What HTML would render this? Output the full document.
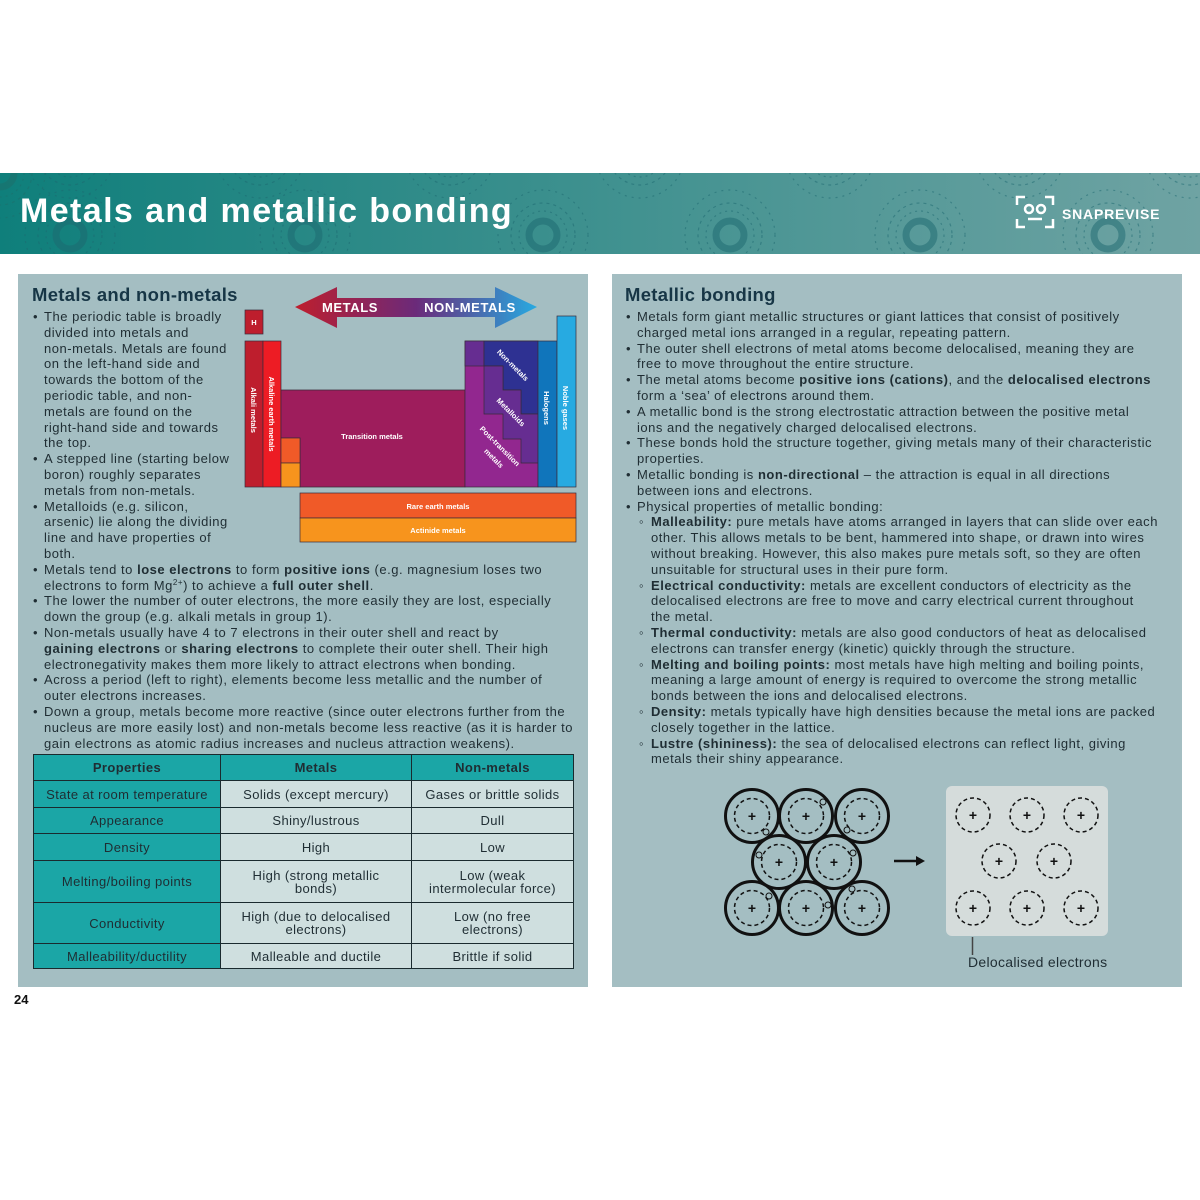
<!DOCTYPE html>
<html><head><meta charset="utf-8"><style>
*{margin:0;padding:0;box-sizing:border-box}
body{width:1200px;height:1200px;background:#fff;position:relative;overflow:hidden;font-family:"Liberation Sans",sans-serif;color:#1c2b33}
.hdr{position:absolute;left:0;top:173px;width:1200px;height:81px;background:linear-gradient(90deg,#0f7f7b 0%,#3a8f8d 45%,#6fa3a3 100%);overflow:hidden}
.title{position:absolute;left:20px;top:192px;font-size:34px;font-weight:bold;color:#fff;letter-spacing:1.4px}
.panel{position:absolute;top:274px;width:570px;height:713px;background:#a4bec2}
h2{position:absolute;font-size:18.5px;font-weight:bold;color:#173646;letter-spacing:0.3px}
.t{position:absolute;font-size:13px;line-height:15.8px;letter-spacing:0.52px;white-space:nowrap;color:#1f2d33}
.t p{position:relative;padding-left:12px}
.t p:before{content:"•";position:absolute;left:1px}
.t p.s{padding-left:26px}
.t p.s:before{content:"◦";left:14px}
sup{font-size:8px;line-height:0;vertical-align:5px}
table{position:absolute;left:33px;top:754px;width:541px;border-collapse:collapse;font-size:13px;letter-spacing:0.4px}
td{border:1.5px solid #1a2a2e;text-align:center;line-height:13px;color:#1f2d33}
td.k{background:#1ba6a6}
td.v{background:#cfdfdf}
</style></head><body>
<div class="hdr">
<svg width="1200" height="81" style="position:absolute;left:0;top:0">
<g fill="none" stroke="#1d6f6c" stroke-width="1.2" opacity="0.55">
<g id="r"><circle cx="0" cy="0" r="14" stroke-width="7"/><circle cx="0" cy="0" r="32" stroke-dasharray="3 4"/><circle cx="0" cy="0" r="45" stroke-dasharray="2 5"/><circle cx="0" cy="0" r="24" stroke-dasharray="2 4"/></g>
</g>
<g fill="none" stroke="#1d6870" stroke-width="1.2" opacity="0.5">
<use href="#r" x="70" y="62"/><use href="#r" x="305" y="62"/><use href="#r" x="543" y="62"/><use href="#r" x="730" y="62"/><use href="#r" x="920" y="62"/><use href="#r" x="1108" y="62"/>
<use href="#r" x="70" y="-20"/><use href="#r" x="260" y="-20"/><use href="#r" x="450" y="-20"/><use href="#r" x="640" y="-20"/><use href="#r" x="830" y="-20"/><use href="#r" x="1020" y="-20"/><use href="#r" x="1190" y="-20"/>
</g>
</svg>
<svg width="40" height="34" style="position:absolute;left:1015px;top:22px"><g fill="none" stroke="#fff" stroke-width="2.5"><path d="M2 10V2h8M30 2h8v8M2 24v8h8M30 32h8v-8"/><circle cx="14" cy="14" r="4"/><circle cx="26" cy="14" r="4"/><path d="M13 24h14"/></g></svg>
<div style="position:absolute;left:1062px;top:33px;color:#fff;font-weight:bold;font-size:14px;letter-spacing:0.8px">SNAPREVISE</div>
</div>
<div class="title">Metals and metallic bonding</div>

<div class="panel" style="left:18px"></div>
<div class="panel" style="left:612px"></div>
<h2 style="left:32px;top:284px">Metals and non-metals</h2>
<h2 style="left:625px;top:284px">Metallic bonding</h2>

<div class="t" style="left:32px;top:309px">
<p>The periodic table is broadly<br>divided into metals and<br>non-metals. Metals are found<br>on the left-hand side and<br>towards the bottom of the<br>periodic table, and non-<br>metals are found on the<br>right-hand side and towards<br>the top.</p>
<p>A stepped line (starting below<br>boron) roughly separates<br>metals from non-metals.</p>
<p>Metalloids (e.g. silicon,<br>arsenic) lie along the dividing<br>line and have properties of<br>both.</p>
<p>Metals tend to <b>lose electrons</b> to form <b>positive ions</b> (e.g. magnesium loses two<br>electrons to form Mg<sup>2+</sup>) to achieve a <b>full outer shell</b>.</p>
<p>The lower the number of outer electrons, the more easily they are lost, especially<br>down the group (e.g. alkali metals in group 1).</p>
<p>Non-metals usually have 4 to 7 electrons in their outer shell and react by<br><b>gaining electrons</b> or <b>sharing electrons</b> to complete their outer shell. Their high<br>electronegativity makes them more likely to attract electrons when bonding.</p>
<p>Across a period (left to right), elements become less metallic and the number of<br>outer electrons increases.</p>
<p>Down a group, metals become more reactive (since outer electrons further from the<br>nucleus are more easily lost) and non-metals become less reactive (as it is harder to<br>gain electrons as atomic radius increases and nucleus attraction weakens).</p>
</div>

<div class="t" style="left:625px;top:309px">
<p>Metals form giant metallic structures or giant lattices that consist of positively<br>charged metal ions arranged in a regular, repeating pattern.</p>
<p>The outer shell electrons of metal atoms become delocalised, meaning they are<br>free to move throughout the entire structure.</p>
<p>The metal atoms become <b>positive ions (cations)</b>, and the <b>delocalised electrons</b><br>form a ‘sea’ of electrons around them.</p>
<p>A metallic bond is the strong electrostatic attraction between the positive metal<br>ions and the negatively charged delocalised electrons.</p>
<p>These bonds hold the structure together, giving metals many of their characteristic<br>properties.</p>
<p>Metallic bonding is <b>non-directional</b> – the attraction is equal in all directions<br>between ions and electrons.</p>
<p>Physical properties of metallic bonding:</p>
<p class="s"><b>Malleability:</b> pure metals have atoms arranged in layers that can slide over each<br>other. This allows metals to be bent, hammered into shape, or drawn into wires<br>without breaking. However, this also makes pure metals soft, so they are often<br>unsuitable for structural uses in their pure form.</p>
<p class="s"><b>Electrical conductivity:</b> metals are excellent conductors of electricity as the<br>delocalised electrons are free to move and carry electrical current throughout<br>the metal.</p>
<p class="s"><b>Thermal conductivity:</b> metals are also good conductors of heat as delocalised<br>electrons can transfer energy (kinetic) quickly through the structure.</p>
<p class="s"><b>Melting and boiling points:</b> most metals have high melting and boiling points,<br>meaning a large amount of energy is required to overcome the strong metallic<br>bonds between the ions and delocalised electrons.</p>
<p class="s"><b>Density:</b> metals typically have high densities because the metal ions are packed<br>closely together in the lattice.</p>
<p class="s"><b>Lustre (shininess):</b> the sea of delocalised electrons can reflect light, giving<br>metals their shiny appearance.</p>
</div>

<svg width="1200" height="1200" style="position:absolute;left:0;top:0" font-family="Liberation Sans, sans-serif">
<defs><linearGradient id="ag" x1="0" x2="1"><stop offset="0" stop-color="#be1e2d"/><stop offset="0.5" stop-color="#6b2a7a"/><stop offset="1" stop-color="#27aae1"/></linearGradient></defs>
<path d="M295 307 L337 287 L337 298 L495 298 L495 287 L537 307 L495 328 L495 317 L337 317 L337 328 Z" fill="url(#ag)"/>
<text x="350" y="312" fill="#fff" font-size="13" font-weight="bold" text-anchor="middle" letter-spacing="0.6">METALS</text>
<text x="470" y="312" fill="#fff" font-size="13" font-weight="bold" text-anchor="middle" letter-spacing="0.6">NON-METALS</text>
<g stroke="#3a2a3a" stroke-width="0.7">
<rect x="245" y="310" width="18" height="24" fill="#be1e2d"/>
<rect x="245" y="341" width="18" height="146" fill="#be1e2d"/>
<rect x="263" y="341" width="18" height="146" fill="#ed1c24"/>
<path d="M281 390H465V487H300V438H281Z" fill="#9e1d5c"/>
<rect x="281" y="438" width="19" height="25" fill="#f05a28"/>
<rect x="281" y="463" width="19" height="24" fill="#f7941d"/>
<rect x="465" y="341" width="73" height="146" fill="#92278f"/>
<rect x="465" y="341" width="19" height="25" fill="#662d91"/>
<path d="M484 341H538V414H521V390H503V366H484Z" fill="#2e3192"/>
<path d="M484 366H503V390H521V414H538V463H521V439H503V414H484Z" fill="#662d91"/>
<rect x="538" y="341" width="19" height="146" fill="#1075bb"/>
<rect x="557" y="316" width="19" height="171" fill="#27aae1"/>
<rect x="300" y="493" width="276" height="25" fill="#f05a28"/>
<rect x="300" y="518" width="276" height="24" fill="#f7941d"/>
</g>
<g fill="#fff" font-size="7.5" font-weight="bold">
<text x="254" y="325" text-anchor="middle">H</text>
<text transform="translate(251,410) rotate(90)" text-anchor="middle">Alkali metals</text>
<text transform="translate(269,414) rotate(90)" text-anchor="middle">Alkaline earth metals</text>
<text x="372" y="439" text-anchor="middle">Transition metals</text>
<text transform="translate(511,367) rotate(45)" text-anchor="middle">Non-metals</text>
<text transform="translate(509,414) rotate(45)" text-anchor="middle">Metalloids</text>
<text transform="translate(498,448) rotate(45)" text-anchor="middle">Post-transition</text>
<text transform="translate(492,460) rotate(45)" text-anchor="middle">metals</text>
<text transform="translate(544,408) rotate(90)" text-anchor="middle">Halogens</text>
<text transform="translate(563,408) rotate(90)" text-anchor="middle">Noble gases</text>
<text x="438" y="509" text-anchor="middle">Rare earth metals</text>
<text x="438" y="533" text-anchor="middle">Actinide metals</text>
</g>

<g fill="none" stroke="#111">
<g stroke-width="3">
<circle cx="752" cy="816" r="26.5"/><circle cx="806" cy="816" r="26.5"/><circle cx="862" cy="816" r="26.5"/>
<circle cx="779" cy="862" r="26.5"/><circle cx="834" cy="862" r="26.5"/>
<circle cx="752" cy="908" r="26.5"/><circle cx="806" cy="908" r="26.5"/><circle cx="862" cy="908" r="26.5"/>
</g>
<g stroke-width="1.5" stroke-dasharray="4 3">
<circle cx="752" cy="816" r="17.5"/><circle cx="806" cy="816" r="17.5"/><circle cx="862" cy="816" r="17.5"/>
<circle cx="779" cy="862" r="17.5"/><circle cx="834" cy="862" r="17.5"/>
<circle cx="752" cy="908" r="17.5"/><circle cx="806" cy="908" r="17.5"/><circle cx="862" cy="908" r="17.5"/>
</g>
</g>
<g fill="#111" font-size="14" font-weight="bold" text-anchor="middle">
<text x="752" y="821">+</text><text x="806" y="821">+</text><text x="862" y="821">+</text>
<text x="779" y="867">+</text><text x="834" y="867">+</text>
<text x="752" y="913">+</text><text x="806" y="913">+</text><text x="862" y="913">+</text>
</g>
<g fill="#a4bec2" stroke="#111" stroke-width="1">
<circle cx="766" cy="832" r="3"/><circle cx="823" cy="802" r="3"/><circle cx="847" cy="830" r="3"/><circle cx="759" cy="855" r="3"/><circle cx="853" cy="853" r="3"/><circle cx="769" cy="896" r="3"/><circle cx="828" cy="905" r="3"/><circle cx="852" cy="889" r="3"/>
</g>
<path d="M894 861H918" stroke="#111" stroke-width="2.5"/><path d="M916 856L925 861L916 866Z" fill="#111"/>
<rect x="946" y="786" width="162" height="150" rx="6" fill="#d5dcdb"/>
<g fill="none" stroke="#111" stroke-width="1.5" stroke-dasharray="4 3">
<circle cx="973" cy="815" r="17"/><circle cx="1027" cy="815" r="17"/><circle cx="1081" cy="815" r="17"/>
<circle cx="999" cy="861" r="17"/><circle cx="1054" cy="861" r="17"/>
<circle cx="973" cy="908" r="17"/><circle cx="1027" cy="908" r="17"/><circle cx="1081" cy="908" r="17"/>
</g>
<g fill="#111" font-size="14" font-weight="bold" text-anchor="middle">
<text x="973" y="820">+</text><text x="1027" y="820">+</text><text x="1081" y="820">+</text>
<text x="999" y="866">+</text><text x="1054" y="866">+</text>
<text x="973" y="913">+</text><text x="1027" y="913">+</text><text x="1081" y="913">+</text>
</g>
<path d="M972.5 937V955" stroke="#444" stroke-width="1.5"/>
<text x="968" y="967" font-size="14" fill="#1f2d33" letter-spacing="0.3">Delocalised electrons</text>
<text x="14" y="1004" font-size="13" font-weight="bold" fill="#111">24</text>
</svg>

<table>
<tr style="height:26px"><td class="k" style="width:187px"><b>Properties</b></td><td class="k" style="width:191px"><b>Metals</b></td><td class="k"><b>Non-metals</b></td></tr>
<tr style="height:27px"><td class="k">State at room temperature</td><td class="v">Solids (except mercury)</td><td class="v">Gases or brittle solids</td></tr>
<tr style="height:26px"><td class="k">Appearance</td><td class="v">Shiny/lustrous</td><td class="v">Dull</td></tr>
<tr style="height:27px"><td class="k">Density</td><td class="v">High</td><td class="v">Low</td></tr>
<tr style="height:42px"><td class="k">Melting/boiling points</td><td class="v">High (strong metallic<br>bonds)</td><td class="v">Low (weak<br>intermolecular force)</td></tr>
<tr style="height:41px"><td class="k">Conductivity</td><td class="v">High (due to delocalised<br>electrons)</td><td class="v">Low (no free<br>electrons)</td></tr>
<tr style="height:25px"><td class="k">Malleability/ductility</td><td class="v">Malleable and ductile</td><td class="v">Brittle if solid</td></tr>
</table>
</body></html>
